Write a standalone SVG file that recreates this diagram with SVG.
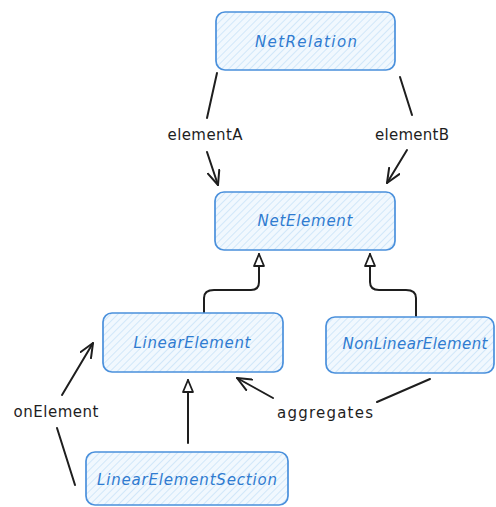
<svg xmlns="http://www.w3.org/2000/svg" width="496" height="507" viewBox="0 0 496 507">
  <defs>
    <pattern id="hatch" width="5" height="5" patternUnits="userSpaceOnUse" patternTransform="rotate(45)">
      <rect width="5" height="5" fill="#f1f8fe"/>
      <line x1="0" y1="0" x2="0" y2="5" stroke="#c9e3f8" stroke-width="1.6"/>
    </pattern>
    <marker id="open" viewBox="0 0 16 14" refX="15" refY="7" markerWidth="16" markerHeight="14" markerUnits="userSpaceOnUse" orient="auto">
      <path d="M1,1 L15,7 L1,13" fill="none" stroke="#1e1e1e" stroke-width="2" stroke-linecap="round" stroke-linejoin="round"/>
    </marker>
    <marker id="tri" viewBox="0 0 14 12" refX="13" refY="6" markerWidth="14" markerHeight="12" markerUnits="userSpaceOnUse" orient="auto">
      <path d="M1,1 L13,6 L1,11 Z" fill="#ffffff" stroke="#1e1e1e" stroke-width="1.8" stroke-linejoin="round"/>
    </marker>
  </defs>
  <style>
    .box { fill: url(#hatch); stroke: #4a90dc; stroke-width: 1.7; }
    .name { font-family: "DejaVu Sans", "Liberation Sans", sans-serif; font-style: italic; font-size: 15px; fill: #2f7bd0; text-anchor: middle; dominant-baseline: central; }
    .lbl { font-family: "DejaVu Sans", "Liberation Sans", sans-serif; font-size: 15px; fill: #1e1e1e; text-anchor: middle; dominant-baseline: central; }
    .edge { fill: none; stroke: #1e1e1e; stroke-width: 2; stroke-linecap: round; stroke-linejoin: round; }
  </style>
  <rect width="496" height="507" fill="#ffffff"/>

  <g id="connectors">
    <!-- elementA -->
    <path class="edge" d="M217,73 L207,118"/>
    <path class="edge" d="M207,152 L218,185" marker-end="url(#open)"/>
    <!-- elementB -->
    <path class="edge" d="M400,77 L412,115"/>
    <path class="edge" d="M407,150 L387,183" marker-end="url(#open)"/>
    <!-- generalizations to NetElement -->
    <path class="edge" d="M204,313 L204,298 Q204,290 214,290 L251,290 Q259,290 259,282 L259,254" marker-end="url(#tri)"/>
    <path class="edge" d="M416,316 L416,298 Q416,290 406,290 L379,290 Q370,290 370,282 L370,254" marker-end="url(#tri)"/>
    <!-- LinearElementSection to LinearElement -->
    <path class="edge" d="M188,443 L188,380" marker-end="url(#tri)"/>
    <!-- aggregates -->
    <path class="edge" d="M430,379 L377,402"/>
    <path class="edge" d="M273,398 L237,378" marker-end="url(#open)"/>
    <!-- onElement -->
    <path class="edge" d="M75,485 L57,428"/>
    <path class="edge" d="M62,395 L93,343" marker-end="url(#open)"/>
    <text class="lbl" x="205" y="135" textLength="75">elementA</text>
    <text class="lbl" x="412" y="135" textLength="74">elementB</text>
    <text class="lbl" x="325" y="413" textLength="96">aggregates</text>
    <text class="lbl" x="56" y="412" textLength="85">onElement</text>
  </g>

  <g id="NetRelation">
    <rect class="box" x="216" y="12" width="179" height="58" rx="9"/>
    <text class="name" x="306" y="42" textLength="102">NetRelation</text>
  </g>
  <g id="NetElement">
    <rect class="box" x="215" y="192" width="180" height="58" rx="9"/>
    <text class="name" x="305" y="221" textLength="95">NetElement</text>
  </g>
  <g id="LinearElement">
    <rect class="box" x="103" y="313" width="180" height="59" rx="9"/>
    <text class="name" x="192" y="343" textLength="117">LinearElement</text>
  </g>
  <g id="NonLinearElement">
    <rect class="box" x="326" y="317" width="168" height="56" rx="9"/>
    <text class="name" x="415" y="344" textLength="145">NonLinearElement</text>
  </g>
  <g id="LinearElementSection">
    <rect class="box" x="86" y="452" width="202" height="53" rx="9"/>
    <text class="name" x="187" y="480" textLength="180">LinearElementSection</text>
  </g>
</svg>
